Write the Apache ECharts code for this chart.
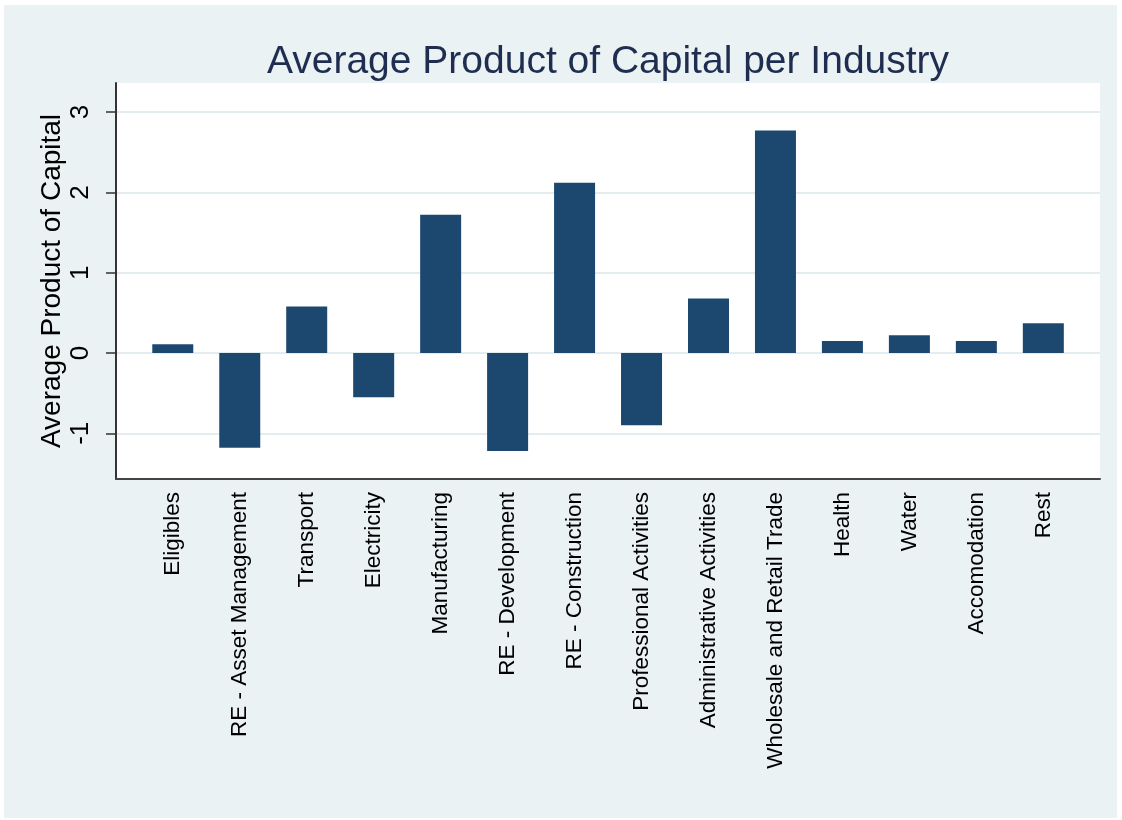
<!DOCTYPE html>
<html>
<head>
<meta charset="utf-8">
<script src="https://cdn.jsdelivr.net/npm/echarts@6/dist/echarts.min.js"></script>
<style>
  html, body { margin: 0; padding: 0; background: #ffffff; }
  #chart { position: absolute; left: 4px; top: 5px; width: 1113px; height: 813px; }
</style>
</head>
<body>
<div id="chart"></div>
<script>
// industries, left to right
var industries = [
  'Eligibles', 'RE - Asset Management', 'Transport', 'Electricity', 'Manufacturing',
  'RE - Development', 'RE - Construction', 'Professional Activities', 'Administrative Activities',
  'Wholesale and Retail Trade', 'Health', 'Water', 'Accomodation', 'Rest'
];
// average product of capital
var apk = [0.11, -1.18, 0.58, -0.55, 1.72, -1.22, 2.12, -0.90, 0.68, 2.77, 0.15, 0.22, 0.15, 0.37];
var yTickMin = -1, yTickMax = 3, yStep = 1;
var yMin = -1.569, yMax = 3.362;

var font = 'Liberation Sans, Arial, sans-serif';
var chart = echarts.init(document.getElementById('chart'));

var option = {
  backgroundColor: '#eaf2f3',
  animation: false,
  title: {
    text: 'Average Product of Capital per Industry',
    left: 599,
    textAlign: 'center',
    top: 33,
    textStyle: { fontFamily: font, fontSize: 39, fontWeight: 'normal', color: '#1f2d50' }
  },
  grid: [
    // frame: white plot area, y axis line and x axis line
    { left: 112, right: 17, top: 78, bottom: 339, show: true, backgroundColor: '#ffffff', borderWidth: 0 },
    // bars
    { left: 135.3, right: 40.2, top: 78, bottom: 339 },
    // tick range -1..3 (ticks, labels, grid lines)
    { left: 112, right: 17, top: 107.1, bottom: 384.7 }
  ],
  xAxis: [
    {
      gridIndex: 0, type: 'value', min: 0, max: 1,
      axisLine: { show: true, onZero: false, lineStyle: { color: '#444', width: 2 } },
      axisTick: { show: false }, axisLabel: { show: false }, splitLine: { show: false }
    },
    {
      gridIndex: 1, type: 'category', data: industries,
      axisLine: { show: false }, axisTick: { show: false },
      axisLabel: { rotate: 90, interval: 0, margin: 13, fontFamily: font, fontSize: 22.5, color: '#000' }
    },
    {
      gridIndex: 2, type: 'value', min: 0, max: 1, show: false
    }
  ],
  yAxis: [
    {
      gridIndex: 0, type: 'value', min: yMin, max: yMax,
      name: 'Average Product of Capital', nameLocation: 'middle', nameGap: 50, nameRotate: 90,
      nameTextStyle: { fontFamily: font, fontSize: 28, color: '#000' },
      axisLine: { show: true, onZero: false, lineStyle: { color: '#333', width: 2 } },
      axisTick: { show: false }, axisLabel: { show: false }, splitLine: { show: false }
    },
    {
      gridIndex: 1, type: 'value', min: yMin, max: yMax,
      axisLine: { show: false }, axisTick: { show: false }, axisLabel: { show: false }, splitLine: { show: false }
    },
    {
      gridIndex: 2, type: 'value', min: yTickMin, max: yTickMax, interval: yStep,
      axisLine: { show: false },
      axisTick: { show: true, length: 10, lineStyle: { color: '#333', width: 1.5 } },
      axisLabel: { rotate: 90, margin: 22, fontFamily: font, fontSize: 26, color: '#000' },
      splitLine: { show: true, lineStyle: { color: '#e3ecef', width: 2 } }
    }
  ],
  series: [{
    type: 'bar',
    xAxisIndex: 1,
    yAxisIndex: 1,
    data: apk,
    barWidth: 41,
    itemStyle: { color: '#1c4870' }
  }]
};
chart.setOption(option);
</script>
</body>
</html>
